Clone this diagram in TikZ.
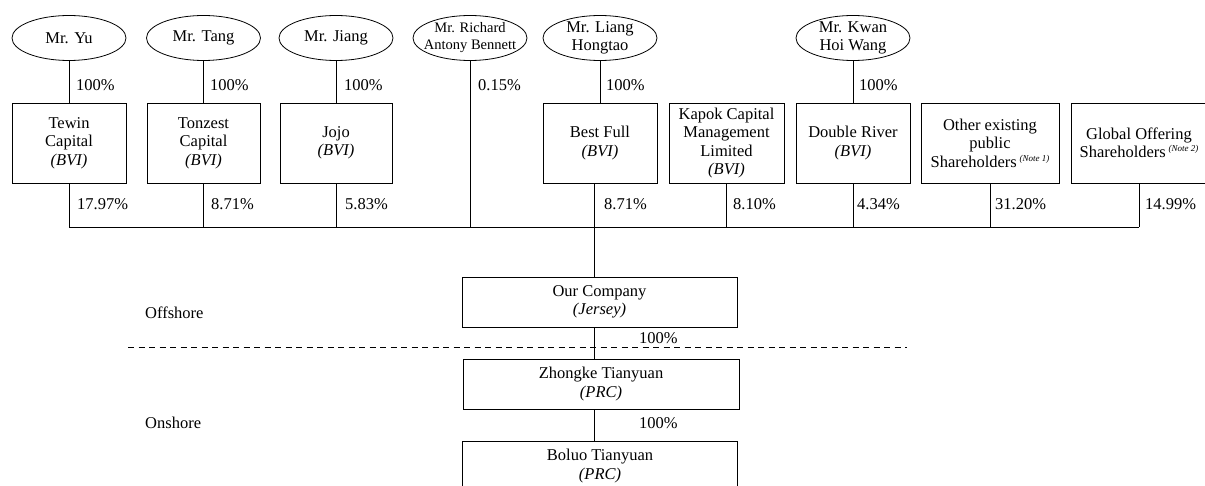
\documentclass[tikz,border=0pt]{standalone}
\usepackage{fontspec}
\setmainfont{Liberation Serif}
\usetikzlibrary{shapes.geometric}

\tikzset{
  OwnerStyle/.style={draw,ellipse,minimum width=114pt,minimum height=45pt,inner sep=0pt,line width=0.8pt},
  NameStyle/.style={align=center,inner sep=0pt,font=\fontsize{16.5}{18}\selectfont},
  BoxStyle/.style={draw,rectangle,minimum height=80pt,inner sep=0pt,align=center,line width=0.8pt,font=\fontsize{16.5}{18.5}\selectfont},
  PctStyle/.style={anchor=west,inner sep=0pt,font=\fontsize{16.5}{18.5}\selectfont},
  EdgeStyle/.style={line width=0.8pt}
}
\newcommand{\NoteMark}[1]{\,\raisebox{6pt}{\fontsize{9}{10}\selectfont\itshape (#1)}}

\begin{document}
\begin{tikzpicture}[x=1pt,y=-1pt]
          \useasboundingbox (0,0) rectangle (1205,486);

          % shareholders
          \node[OwnerStyle,label={[NameStyle]center:Mr. Yu}] (yu) at (69,38) {};
          \node[OwnerStyle,label={[NameStyle]center:Mr. Tang}] (tang) at (203.5,38) {};
          \node[OwnerStyle,label={[NameStyle]center:Mr. Jiang}] (jiang) at (336,38) {};
          \node[OwnerStyle,label={[NameStyle,font=\fontsize{14.5}{17}\selectfont]center:Mr. Richard\\Antony Bennett}] (richard) at (470,38) {};
          \node[OwnerStyle,label={[NameStyle]center:Mr. Liang\\Hongtao}] (liang) at (600,38) {};
          \node[OwnerStyle,label={[NameStyle]center:Mr. Kwan\\Hoi Wang}] (kwan) at (853,38) {};

          % holding companies
          \node[BoxStyle,minimum width=114pt] (tewin) at (69,143) {Tewin\\Capital\\\textit{(BVI)}};
          \node[BoxStyle,minimum width=113pt] (tonzest) at (203.5,143) {Tonzest\\Capital\\\textit{(BVI)}};
          \node[BoxStyle,minimum width=112pt] (jojo) at (336,143) {Jojo\\\textit{(BVI)}};
          \node[BoxStyle,minimum width=114pt] (bestfull) at (600,143) {Best Full\\\textit{(BVI)}};
          \node[BoxStyle,minimum width=115pt] (kapok) at (726.5,143) {Kapok Capital\\Management\\Limited\\\textit{(BVI)}};
          \node[BoxStyle,minimum width=114pt] (double) at (853,143) {Double River\\\textit{(BVI)}};
          \node[BoxStyle,minimum width=138pt] (other) at (990,143) {Other existing\\public\\Shareholders\NoteMark{Note 1}};
          \node[BoxStyle,minimum width=136pt] (global) at (1139,143) {Global Offering\\Shareholders\NoteMark{Note 2}};

          % group
          \node[BoxStyle,minimum width=275pt,minimum height=50pt] (ourco) at (599.5,302) {Our Company\\\textit{(Jersey)}};
          \node[BoxStyle,minimum width=276pt,minimum height=50pt] (zhongke) at (601,384) {Zhongke Tianyuan\\\textit{(PRC)}};
          \node[BoxStyle,minimum width=275pt,minimum height=50pt] (boluo) at (600,466) {Boluo Tianyuan\\\textit{(PRC)}};

          \node[PctStyle] (offshore) at (145,313) {Offshore};
          \node[PctStyle] (onshore) at (145,423) {Onshore};

          \coordinate (bus) at (0,227);
          \coordinate (trunk) at (594,0);
          \coordinate (dashL) at (128,347);
          \coordinate (dashR) at (907,347);

          % owner edges
          \draw[EdgeStyle] (yu.south) -- (tewin.north);
          \draw[EdgeStyle] (tang.south) -- (tonzest.north);
          \draw[EdgeStyle] (jiang.south) -- (jojo.north);
          \draw[EdgeStyle] (liang.south) -- (bestfull.north);
          \draw[EdgeStyle] (kwan.south) -- (double.north);
          \draw[EdgeStyle] (richard.south) -- (richard.south |- bus);

          % edges to the bus
          \draw[EdgeStyle] (tewin.south) -- (tewin.south |- bus);
          \draw[EdgeStyle] (tonzest.south) -- (tonzest.south |- bus);
          \draw[EdgeStyle] (jojo.south) -- (jojo.south |- bus);
          \draw[EdgeStyle] (kapok.south) -- (kapok.south |- bus);
          \draw[EdgeStyle] (double.south) -- (double.south |- bus);
          \draw[EdgeStyle] (other.south) -- (other.south |- bus);
          \draw[EdgeStyle] (global.south) -- (global.south |- bus);
          \draw[EdgeStyle] (tewin.south |- bus) -- (global.south |- bus);

          % down the group
          \draw[EdgeStyle] (bestfull.south -| trunk) -- (ourco.north -| trunk);
          \draw[EdgeStyle] (ourco.south -| trunk) -- (zhongke.north -| trunk);
          \draw[EdgeStyle] (zhongke.south -| trunk) -- (boluo.north -| trunk);

          % offshore / onshore
          \draw[EdgeStyle,dash pattern=on 6pt off 4.5pt] (dashL) -- (dashR);

          % percentages
          \node[PctStyle] (p1) at (76,85) {100\%};
          \node[PctStyle] (p2) at (210,85) {100\%};
          \node[PctStyle] (p3) at (344,85) {100\%};
          \node[PctStyle] (p4) at (478,85) {0.15\%};
          \node[PctStyle] (p5) at (606,85) {100\%};
          \node[PctStyle] (p6) at (859,85) {100\%};
          \node[PctStyle] (q1) at (77,204) {17.97\%};
          \node[PctStyle] (q2) at (211,204) {8.71\%};
          \node[PctStyle] (q3) at (345,204) {5.83\%};
          \node[PctStyle] (q4) at (604,204) {8.71\%};
          \node[PctStyle] (q5) at (733,204) {8.10\%};
          \node[PctStyle] (q6) at (857,204) {4.34\%};
          \node[PctStyle] (q7) at (995,204) {31.20\%};
          \node[PctStyle] (q8) at (1145,204) {14.99\%};
          \node[PctStyle] (r1) at (639,338) {100\%};
          \node[PctStyle] (r2) at (639,423) {100\%};
        \end{tikzpicture}
\end{document}
